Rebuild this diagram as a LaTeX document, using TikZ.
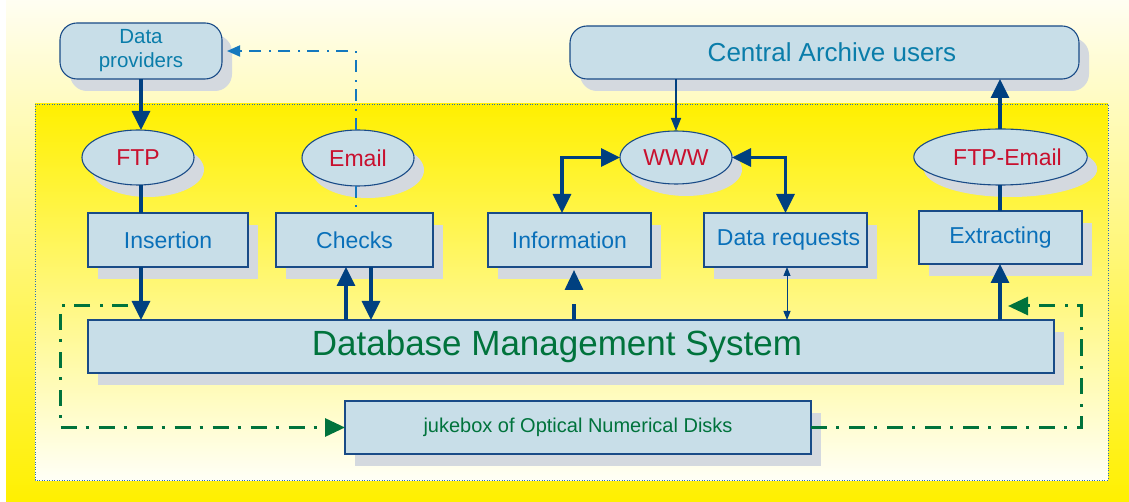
\documentclass[tikz,border=0pt]{standalone}
\usepackage{fontspec}
\setmainfont{Liberation Sans}
\usetikzlibrary{shadows,shapes.geometric,arrows.meta,calc}
\definecolor{boxfill}{RGB}{200,222,232}
\definecolor{boxline}{RGB}{25,75,135}
\definecolor{shgray}{RGB}{212,217,223}
\definecolor{arrowblue}{RGB}{0,64,128}
\definecolor{lblblue}{RGB}{10,112,185}
\definecolor{tealblue}{RGB}{10,125,170}
\definecolor{lblred}{RGB}{200,16,46}
\definecolor{dgreen}{RGB}{0,115,60}
\definecolor{yel}{RGB}{255,240,0}
\definecolor{paleyel}{RGB}{255,248,172}
\definecolor{offwhite}{RGB}{255,255,246}
\definecolor{topwhite}{RGB}{255,254,242}
\definecolor{dashblue}{RGB}{20,120,190}
\definecolor{borderblue}{RGB}{40,110,180}
\begin{document}
\begin{tikzpicture}[x=1pt,y=-1pt,
  shadowed/.style={drop shadow={shadow xshift=10pt,shadow yshift=-12pt,fill=shgray,opacity=1}},
  box/.style={rectangle,draw=boxline,line width=1.1pt,fill=boxfill,shadowed,inner sep=0pt,outer sep=0pt,
    font=\fontsize{23}{27}\selectfont,text=lblblue},
  rbox/.style={box,rounded corners=17pt,text=tealblue},
  ell/.style={ellipse,draw=boxline,line width=1.1pt,fill=boxfill,shadowed,inner sep=0pt,outer sep=0pt,
    font=\fontsize{23}{27}\selectfont,text=lblred},
  thickarrow/.style={draw=arrowblue,line width=3.2pt,-{Triangle[length=19pt,width=18pt]}},
  thickline/.style={draw=arrowblue,line width=3.2pt},
  dblarrow/.style={draw=arrowblue,line width=3.2pt,{Triangle[length=19pt,width=18pt]}-{Triangle[length=19pt,width=18pt]}},
  thinarrow/.style={draw=arrowblue,line width=1.6pt,-{Triangle[length=13pt,width=10pt]}},
  finearrow/.style={draw=arrowblue,line width=1pt,{Triangle[length=9pt,width=7pt]}-{Triangle[length=9pt,width=7pt]}},
  bluedashdot/.style={draw=dashblue,line width=1.8pt,dash pattern=on 12pt off 7pt on 2pt off 8pt},
  greendashdot/.style={draw=dgreen,line width=3pt,dash pattern=on 16pt off 9pt on 3pt off 10pt},
  greentip/.style={-{Triangle[length=20pt,width=18pt]}}
]
\useasboundingbox (0,0) rectangle (1129,502);
% backgrounds
\fill[top color=topwhite,bottom color=yel] (6,0) rectangle (1129,502);
\fill[top color=yel,middle color=paleyel,bottom color=offwhite] (35,104) rectangle (1108,480);
\draw[borderblue,line width=0.8pt,dash pattern=on 1pt off 1.5pt] (35,104) rectangle (1108,480);

% nodes
\node[rbox,minimum width=162pt,minimum height=56pt,align=center,font=\fontsize{20.5}{24}\selectfont] (dp) at (141,51) {Data\\providers};
\node[rbox,minimum width=509pt,minimum height=53pt,font=\fontsize{26}{30}\selectfont] (cau) at (824.5,52.5) {\hspace*{15pt}Central Archive users};

\node[ell,minimum width=112pt,minimum height=55pt] (ftp) at (138,157.5) {FTP};
\node[ell,minimum width=112pt,minimum height=56pt] (email) at (358,158) {Email};
\node[ell,minimum width=112pt,minimum height=53pt] (www) at (676,157.5) {WWW};
\node[ell,minimum width=163pt,minimum height=56pt] (ftpe) at (1000.5,157) {\hspace*{14pt}FTP-Email};

\node[box,minimum width=160pt,minimum height=54pt] (ins) at (168,240) {Insertion};
\node[box,minimum width=157pt,minimum height=54pt] (chk) at (354.5,240) {Checks};
\node[box,minimum width=163pt,minimum height=54pt] (info) at (569.5,240) {Information};
\node[box,minimum width=163pt,minimum height=54pt] (dreq) at (785.5,240) {\hspace*{6pt}Data requests};
\node[box,minimum width=163pt,minimum height=53pt] (ext) at (1000.5,237.5) {Extracting};

\node[box,minimum width=966pt,minimum height=53pt,font=\fontsize{35}{40}\selectfont,text=dgreen] (dbms) at (571,346.5) {Database Management System\hspace*{28pt}};
\node[box,minimum width=466pt,minimum height=53pt,font=\fontsize{20}{24}\selectfont,text=dgreen] (jbx) at (578,427.5) {jukebox of Optical Numerical Disks};

% connectors
\coordinate (xl) at (141,0);
\draw[thickarrow] (dp.south -| xl) -- (ftp.north -| xl);
\draw[thickline] (ftp.south -| xl) -- (ins.north -| xl);
\draw[thickarrow] (ins.south -| xl) -- (dbms.north -| xl);

\coordinate (xe) at (356,0);
\draw[bluedashdot,-{Triangle[length=13pt,width=11pt]},shorten >=5pt] (email.north -| xe) |- (dp.east);
\draw[bluedashdot] (email.south -| xe) -- (chk.north -| xe);

\coordinate (xcu) at (346,0);
\coordinate (xcd) at (371,0);
\draw[thickarrow] (dbms.north -| xcu) -- (chk.south -| xcu);
\draw[thickarrow] (chk.south -| xcd) -- (dbms.north -| xcd);

\draw[thinarrow] (cau.south -| www.north) -- (www.north);
\coordinate (xi) at (562,0);
\draw[dblarrow] (www.west) -| (info.north -| xi);
\draw[dblarrow] (www.east) -| (dreq.north);

\coordinate (xid) at (574,0);
\draw[draw=arrowblue,line width=3.2pt,dash pattern=on 16pt off 16pt,-{Triangle[length=20pt,width=18pt]},shorten >=3pt]
  (dbms.north -| xid) -- (info.south -| xid);
\coordinate (xdr) at (787,0);
\draw[finearrow] (dreq.south -| xdr) -- (dbms.north -| xdr);

\coordinate (xr) at (1000,0);
\draw[thickarrow] (ftpe.north -| xr) -- (cau.south -| xr);
\draw[thickline] (ftpe.south -| xr) -- (ext.north -| xr);
\draw[thickarrow] (dbms.north -| xr) -- (ext.south -| xr);

% green loops
\coordinate (g1) at (128,306);
\coordinate (g2) at (1008,306);
\draw[greendashdot,greentip] (g1) -- (60,306) |- (jbx.west);
\draw[greendashdot,greentip] (jbx.east) -- (1081,427.5) |- (g2);
\end{tikzpicture}
\end{document}
